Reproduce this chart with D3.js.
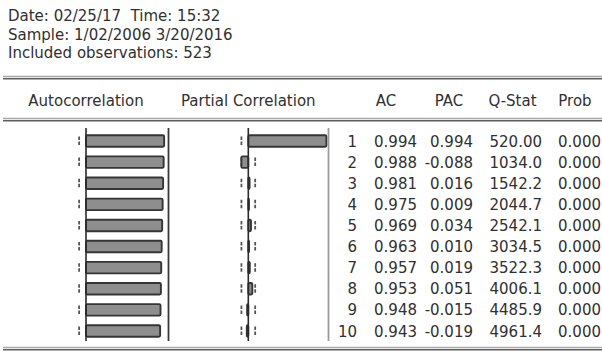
<!DOCTYPE html>
<html>
<head>
<meta charset="utf-8">
<script src="https://cdn.jsdelivr.net/npm/d3@7"></script>
<style>
  html, body { margin: 0; padding: 0; background: #fff; }
  svg { display: block; }
  text { font-family: "DejaVu Sans", sans-serif; font-size: 15px; fill: #303030; white-space: pre; }
</style>
</head>
<body>
<div id="chart"></div>
<script>
// Correlogram output: header notes, AC / PAC bar panels and the statistics table
const headerLines = [
  "Date: 02/25/17  Time: 15:32",
  "Sample: 1/02/2006 3/20/2016",
  "Included observations: 523"
];
const nObs = 523;
const lags  = [1, 2, 3, 4, 5, 6, 7, 8, 9, 10];
const ac    = [0.994, 0.988, 0.981, 0.975, 0.969, 0.963, 0.957, 0.953, 0.948, 0.943];
const pac   = [0.994, -0.088, 0.016, 0.009, 0.034, 0.010, 0.019, 0.051, -0.015, -0.019];
const qstat = ["520.00", "1034.0", "1542.2", "2044.7", "2542.1", "3034.5", "3522.3", "4006.1", "4485.9", "4961.4"];
const prob  = ["0.000", "0.000", "0.000", "0.000", "0.000", "0.000", "0.000", "0.000", "0.000", "0.000"];
const panelTitles = ["Autocorrelation", "Partial Correlation"];
const columnTitles = ["AC", "PAC", "Q-Stat", "Prob"];

const W = 602, H = 352;
const svg = d3.select("#chart").append("svg").attr("width", W).attr("height", H);

// header notes
svg.selectAll("text.note").data(headerLines).join("text")
  .attr("class", "note")
  .attr("x", 8)
  .attr("y", (d, i) => 21 + i * 18.5)
  .text(d => d);

// double rules
function rule(y) {
  svg.append("line").attr("x1", 3).attr("x2", W).attr("y1", y - 1).attr("y2", y - 1)
    .attr("stroke", "#a8a8a8").attr("stroke-width", 1.6);
  svg.append("line").attr("x1", 3).attr("x2", W).attr("y1", y + 1.2).attr("y2", y + 1.2)
    .attr("stroke", "#5e5e5e").attr("stroke-width", 1.6);
}
rule(77.5);
rule(119.5);
rule(348.5);

// row positions
const y = d3.scalePoint().domain(lags).range([141, 331]);
const barH = 11.5;

// panels share the same correlation scale width
const unit = 78.6;
const acX  = d3.scaleLinear().domain([-1, 1]).range([86 - unit, 86 + unit]);
const pacX = d3.scaleLinear().domain([-1, 1]).range([248.3 - unit, 248.3 + unit]);
const band = 2 / Math.sqrt(nObs);

// panel titles
svg.append("text").attr("x", acX(0)).attr("y", 106).attr("text-anchor", "middle").text(panelTitles[0]);
svg.append("text").attr("x", pacX(0)).attr("y", 106).attr("text-anchor", "middle").text(panelTitles[1]);

function panel(x, values, rightLine, rightColor) {
  const g = svg.append("g");
  // confidence band markers
  [-band, band].forEach(b => {
    g.selectAll(null).data(lags).join("line")
      .attr("x1", x(b)).attr("x2", x(b))
      .attr("y1", d => y(d) - 4.5).attr("y2", d => y(d) + 4.5)
      .attr("stroke", "#555").attr("stroke-width", 1.8)
      .attr("stroke-dasharray", "3.5,1.5");
  });
  // bars
  g.selectAll("rect").data(values).join("rect")
    .attr("x", d => Math.min(x(0), x(d)))
    .attr("width", d => Math.abs(x(d) - x(0)))
    .attr("y", (d, i) => y(lags[i]) - barH / 2)
    .attr("height", barH)
    .attr("rx", 1.2)
    .attr("fill", "#8e8e8e")
    .attr("stroke", "#353535")
    .attr("stroke-width", 1.9);
  // zero axis
  g.append("line").attr("x1", x(0)).attr("x2", x(0)).attr("y1", 128).attr("y2", 341)
    .attr("stroke", "#2a2a2a").attr("stroke-width", 1.6);
  // right border
  g.append("line").attr("x1", rightLine).attr("x2", rightLine).attr("y1", 128).attr("y2", 341)
    .attr("stroke", rightColor).attr("stroke-width", 1.8);
}
panel(acX, ac, 168.5, "#3a3a3a");
panel(pacX, pac, 328.5, "#9a9a9a");

// statistics table
const cols = [
  { right: 357, values: lags.map(String) },
  { right: 417, values: ac.map(v => v.toFixed(3)) },
  { right: 473, values: pac.map(v => v.toFixed(3)) },
  { right: 542, values: qstat },
  { right: 601, values: prob }
];
cols.forEach(c => {
  svg.selectAll(null).data(c.values).join("text")
    .attr("x", c.right)
    .attr("y", (d, i) => y(lags[i]) + 5.5)
    .attr("text-anchor", "end")
    .text(d => d);
});
const titleCenters = [386, 449, 512.5, 575];
svg.selectAll("text.col").data(columnTitles).join("text")
  .attr("class", "col")
  .attr("x", (d, i) => titleCenters[i])
  .attr("y", 106)
  .attr("text-anchor", "middle")
  .text(d => d);
</script>
</body>
</html>
